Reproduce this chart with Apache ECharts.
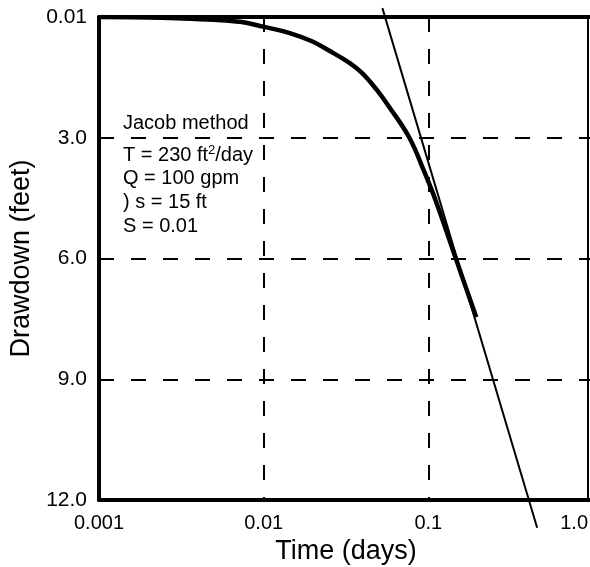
<!DOCTYPE html>
<html><head><meta charset="utf-8">
<script src="https://cdn.jsdelivr.net/npm/echarts@6/dist/echarts.min.js"></script>
<style>html,body{margin:0;padding:0;background:#fff}#c{width:590px;height:567px}</style>
</head><body><div id="c"></div>
<script>
// Measured drawdown curve (time in days, drawdown in feet)
var curveTime = [0.001, 0.002, 0.003, 0.005, 0.0072, 0.0099, 0.0144, 0.0198, 0.0251, 0.0332, 0.0398, 0.0484, 0.058, 0.0767, 0.0946, 0.1117, 0.148, 0.1955];
var curveDrawdown = [0.0, 0.01, 0.03, 0.07, 0.12, 0.24, 0.40, 0.61, 0.84, 1.14, 1.40, 1.80, 2.24, 3.0, 3.85, 4.6, 6.04, 7.46];
// Jacob straight-line fit (endpoints extend beyond the frame)
var fitTime = [0.0526, 0.458];
var fitDrawdown = [-0.22, 12.69];
var yTickLabels = {0: '0.01', 3: '3.0', 6: '6.0', 9: '9.0', 12: '12.0'};
var xTickLabels = {0.001: '0.001', 0.01: '0.01', 0.1: '0.1', 1: '{m|1.0}'};
var annotationLines = ['Jacob method', 'T = 230 ft{sup|2}/day', 'Q = 100 gpm', ') s = 15 ft', 'S = 0.01'];
var annotationY = [123, 155, 178, 202, 226];

var font = 'Liberation Sans, Arial, sans-serif';
var chart = echarts.init(document.getElementById('c'), null, {renderer: 'canvas'});
function pairs(a, b) { return a.map(function (v, i) { return [v, b[i]]; }); }
function xLab(v) {
  for (var k in xTickLabels) { if (Math.abs(Math.log10(v) - Math.log10(+k)) < 1e-6) return xTickLabels[k]; }
  return '';
}
var dash = {color: '#000', width: 2, type: [15, 17]};
chart.setOption({
  animation: false,
  backgroundColor: '#fff',
  grid: {left: 99, right: -3, top: 17, bottom: 67, outerBoundsMode: 'none', containLabel: false},
  xAxis: [{
    type: 'log', logBase: 10, min: 0.001, max: 1, position: 'bottom',
    name: 'Time (days)', nameLocation: 'middle', nameGap: 35,
    nameTextStyle: {fontFamily: font, fontSize: 27, color: '#000'},
    axisLine: {show: true, onZero: false, lineStyle: {color: '#000', width: 4}},
    axisTick: {show: false}, minorTick: {show: false},
    axisLabel: {formatter: xLab, fontFamily: font, fontSize: 20, color: '#000', margin: 13, alignMaxLabel: 'right', showMaxLabel: true, showMinLabel: true,
      rich: {m: {fontFamily: font, fontSize: 20, color: '#000', padding: [0, 5, 0, 0]}}},
    splitLine: {show: true, lineStyle: dash}
  }, {
    type: 'log', logBase: 10, min: 0.001, max: 1, position: 'top',
    axisLine: {show: true, onZero: false, lineStyle: {color: '#000', width: 4}},
    axisTick: {show: false}, axisLabel: {show: false}, splitLine: {show: false}
  }],
  yAxis: [{
    type: 'value', min: 0, max: 12, interval: 3, inverse: true, position: 'left',
    name: 'Drawdown (feet)', nameLocation: 'middle', nameGap: 56, nameRotate: 90,
    nameTextStyle: {fontFamily: font, fontSize: 27, color: '#000'},
    axisLine: {show: true, onZero: false, lineStyle: {color: '#000', width: 4}},
    axisTick: {show: false},
    axisLabel: {formatter: function (v) { return yTickLabels[v] || ''; }, fontFamily: font, fontSize: 21, color: '#000', margin: 12},
    splitLine: {show: true, lineStyle: dash}
  }, {
    type: 'value', min: 0, max: 12, interval: 3, inverse: true, position: 'right', offset: -5,
    axisLine: {show: true, onZero: false, lineStyle: {color: '#000', width: 2}},
    axisTick: {show: false}, axisLabel: {show: false}, splitLine: {show: false}
  }],
  series: [{
    type: 'line', data: pairs(curveTime, curveDrawdown), smooth: 0.4,
    showSymbol: false, lineStyle: {color: '#000', width: 4.5}, z: 5
  }, {
    type: 'line', data: pairs(fitTime, fitDrawdown), clip: false,
    showSymbol: false, lineStyle: {color: '#000', width: 2}, z: 6
  }],
  graphic: annotationLines.map(function (t, i) {
    return {
      type: 'text', x: 123, y: annotationY[i], z: 10,
      style: {
        text: t, fontFamily: font, fontSize: 20, fill: '#000', verticalAlign: 'middle',
        rich: {sup: {fontSize: 13, verticalAlign: 'top', padding: [0, 0, 10, 0], fontFamily: font, fill: '#000'}}
      }
    };
  })
});
</script></body></html>
